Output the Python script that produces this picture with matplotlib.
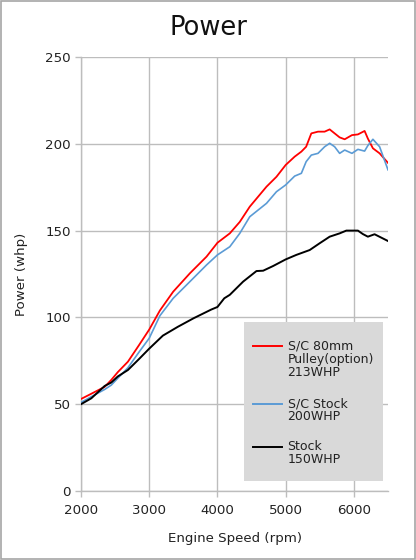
import matplotlib
matplotlib.use("Agg")
import matplotlib.pyplot as plt
from matplotlib.patches import Rectangle

# engine speed (rpm) and power (whp)
rpm_red = [2000, 2150, 2347, 2444, 2540, 2688, 2850, 3000, 3157, 3351, 3596, 3840, 4000,
           4181, 4327, 4474, 4719, 4865, 5000, 5132, 5230, 5300, 5376, 5474, 5571, 5645,
           5718, 5791, 5865, 5972, 6059, 6157, 6205, 6279, 6377, 6500]
pwr_red = [53, 56, 60, 64, 68.5, 74.5, 84, 93, 104, 114.8, 125.4, 135, 143,
           148.4, 155, 163.8, 175.3, 181, 187.8, 192.6, 195.5, 198.3, 206, 207, 207, 208.3,
           206, 203.7, 202.6, 205, 205.4, 207.4, 203, 197.4, 194.5, 189]

rpm_blue = [2000, 2150, 2347, 2444, 2540, 2688, 2850, 3000, 3157, 3351, 3596, 3840, 4000,
            4181, 4327, 4474, 4719, 4865, 5000, 5132, 5230, 5300, 5376, 5474, 5571, 5645,
            5718, 5791, 5865, 5972, 6059, 6157, 6205, 6279, 6377, 6500]
pwr_blue = [51, 54.3, 58.5, 61, 65, 71, 80, 88, 101, 111, 120.6, 130.2, 136,
            140.7, 148.4, 158, 165.7, 172.4, 176.3, 181.4, 183, 189.7, 193.5, 194.5, 198.3, 200.3,
            198.3, 194.5, 196.4, 194.5, 196.8, 195.8, 199, 202.6, 198.3, 185]

rpm_black = [2000, 2151, 2347, 2444, 2540, 2688, 2850, 3000, 3200, 3420, 3650, 3908, 4000,
             4100, 4181, 4376, 4572, 4670, 4816, 5000, 5156, 5352, 5498, 5645, 5791, 5889,
             6059, 6132, 6205, 6303, 6500]
pwr_black = [50, 53.4, 60.5, 62.5, 66, 69.7, 76, 82, 89.5, 94.6, 99.5, 104.5, 106,
             111, 113, 120.6, 126.7, 126.9, 129.6, 133.4, 136, 138.8, 142.7, 146.5, 148.4, 150,
             150, 148, 146.5, 147.9, 144]

series_labels = ["S/C 80mm\nPulley(option)\n213WHP", "S/C Stock\n200WHP", "Stock\n150WHP"]
series_colors = ["#FF0000", "#5B9BD5", "#000000"]

fig = plt.figure(figsize=(4.16, 5.6), dpi=100)
ax = fig.add_axes([81 / 416, 1 - 491 / 560, 307 / 416, 434 / 560])

ax.plot(rpm_red, pwr_red, color=series_colors[0], lw=1.3, zorder=3)
ax.plot(rpm_blue, pwr_blue, color=series_colors[1], lw=1.2, zorder=3)
ax.plot(rpm_black, pwr_black, color=series_colors[2], lw=1.4, zorder=3)

ax.set_xlim(2000, 6500)
ax.set_ylim(0, 250)
ax.set_xticks([2000, 3000, 4000, 5000, 6000])
ax.set_yticks([0, 50, 100, 150, 200, 250])
ax.grid(True, color="#BDBDBD", lw=1.0)
ax.set_axisbelow(True)
for s in ["top", "right"]:
    ax.spines[s].set_visible(False)
for s in ["left", "bottom"]:
    ax.spines[s].set_color("#BDBDBD")
    ax.spines[s].set_linewidth(1.0)
ax.tick_params(colors="#BDBDBD", labelcolor="#222222", labelsize=9.6, length=4, width=1.0)
ax.tick_params(axis="x", pad=5)

ax.set_xlabel("Engine Speed (rpm)", fontsize=9.6, color="#222222", labelpad=11)
ax.set_ylabel("Power (whp)", fontsize=9.6, color="#222222", labelpad=12)
fig.text(0.5, 1 - 28 / 560, "Power", ha="center", va="center", fontsize=18.5, color="#111111")

# legend box drawn by hand so the handle sits on the first label line
ax.add_patch(Rectangle((0.531, 0.023), 0.453, 0.366, transform=ax.transAxes,
                       facecolor="#D9D9D9", edgecolor="none", zorder=4))
leg_y = [0.333, 0.2005, 0.102]
for lab, col, yy in zip(series_labels, series_colors, leg_y):
    ax.plot([0.561, 0.655], [yy, yy], transform=ax.transAxes, color=col, lw=1.4, zorder=5)
    ax.text(0.673, yy + 0.016, lab, transform=ax.transAxes, va="top", ha="left",
            fontsize=9, color="#222222", linespacing=1.0, zorder=5)

# outer frame
fig.patches.append(Rectangle((0.002, 0.002), 0.996, 0.996, transform=fig.transFigure,
                             facecolor="none", edgecolor="#A6A6A6", lw=1.2))

fig.savefig("out.png", dpi=100)
